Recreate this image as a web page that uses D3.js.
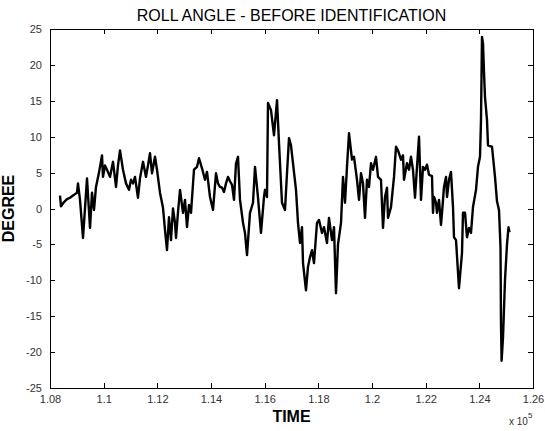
<!DOCTYPE html>
<html><head><meta charset="utf-8">
<script src="https://cdn.jsdelivr.net/npm/d3@7"></script>
<style>
html,body{margin:0;padding:0;background:#fff;}
svg{display:block;font-family:Arial,"Liberation Sans",sans-serif;}
</style></head>
<body><svg id="chart" width="545" height="431"></svg>
<script>
const title = "ROLL ANGLE - BEFORE IDENTIFICATION";
const xLabel = "TIME";
const yLabel = "DEGREE";
const xTickValues = [108000,110000,112000,114000,116000,118000,120000,122000,124000,126000];
const xTickLabels = ["1.08","1.1","1.12","1.14","1.16","1.18","1.2","1.22","1.24","1.26"];
const yTickValues = [-25,-20,-15,-10,-5,0,5,10,15,20,25];
const yTickLabels = ["-25","-20","-15","-10","-5","0","5","10","15","20","25"];

const time = [108373,108410,108522,108634,108745,108857,108932,109006,109043,109118,
109230,109379,109491,109565,109640,109714,109826,109938,109975,110050,
110124,110236,110348,110460,110534,110609,110720,110832,110944,111019,
111093,111168,111279,111354,111466,111578,111652,111727,111801,111913,
111988,112099,112211,112286,112360,112435,112509,112584,112658,112696,
112770,112845,112957,113031,113106,113180,113255,113366,113478,113553,
113665,113776,113851,113963,114075,114186,114261,114335,114410,114484,
114559,114634,114708,114783,114857,114932,115006,115081,115193,115267,
115342,115453,115565,115640,115752,115863,115975,116012,116087,116124,
116236,116348,116460,116534,116646,116758,116832,116907,116981,117056,
117168,117242,117317,117391,117429,117540,117615,117689,117764,117838,
117950,118025,118137,118211,118323,118397,118509,118584,118658,118733,
118845,118919,118994,119068,119143,119255,119329,119441,119516,119590,
119665,119739,119814,119888,119963,120037,120149,120224,120335,120410,
120484,120559,120596,120708,120820,120894,120969,121081,121155,121193,
121304,121379,121453,121528,121602,121677,121752,121826,121901,121975,
122050,122124,122236,122273,122311,122385,122422,122497,122571,122609,
122683,122758,122795,122870,122944,123019,123056,123131,123242,123354,
123391,123466,123540,123615,123689,123764,123876,123950,124025,124062,
124099,124137,124174,124211,124286,124323,124397,124472,124584,124658,
124733,124789,124807,124830,124882,124956,125031,125087,125124];

const roll = [1.8,0.3,0.9,1.3,1.5,1.8,2.0,2.2,3.5,1.2,
-4.1,4.2,-2.7,2.2,-0.2,3.0,5.0,7.4,4.4,6.0,
5.4,4.4,6.5,3.0,6.0,8.1,5.4,3.5,2.6,4.0,
3.5,4.4,1.5,4.2,6.5,4.4,6.0,7.7,4.9,7.2,
5.4,2.2,0.1,-3.0,-5.8,-1.2,-4.4,0.0,-2.0,-4.1,
-0.5,2.6,-0.6,1.2,-2.6,0.5,-0.6,5.4,5.8,7.0,
5.6,4.0,5.1,1.6,-0.2,4.9,3.5,3.0,2.9,2.3,
3.5,4.4,3.8,3.3,1.2,6.3,7.2,1.2,-2.0,-3.4,
-6.5,-0.6,0.8,5.8,1.5,-3.4,1.6,2.6,1.6,14.7,
13.7,10.2,15.1,9.1,0.8,-0.2,4.9,9.8,8.8,6.3,
2.6,-2.0,-4.8,-2.6,-7.6,-11.4,-8.1,-6.8,-5.8,-7.6,
-2.0,-1.6,-3.4,-2.6,-4.8,-1.3,-4.4,-2.6,-11.8,-5.0,
-2.0,4.4,0.8,5.8,10.5,6.8,7.2,4.0,1.2,4.9,
3.5,-1.3,4.0,3.0,6.3,5.4,7.2,4.4,4.0,-2.7,
1.6,2.9,-1.3,0.2,4.4,8.6,8.1,6.8,7.4,4.0,
6.3,5.4,7.2,5.4,1.5,5.8,10.0,1.2,5.8,5.4,
6.1,4.7,4.5,-0.6,1.6,0.8,-0.6,1.2,-2.3,-0.6,
3.0,4.4,1.6,4.0,5.1,0.2,-4.0,-4.4,-11.1,-6.2,
-0.6,-0.6,-4.0,-2.7,-3.4,0.2,2.6,5.8,7.2,12.3,
23.9,23.0,19.0,15.5,12.3,8.8,8.7,8.6,4.4,1.0,
-0.2,-5.4,-16.0,-21.2,-18.0,-10.0,-5.0,-2.6,-3.3];

const svg = d3.select("#chart");
const L = 50, R = 533, T = 29, B = 388;
const x = d3.scaleLinear().domain([108000,126000]).range([L,R]);
const y = d3.scaleLinear().domain([-25,25]).range([B,T]);
const tickLen = 5;

svg.append("rect").attr("x",L).attr("y",T).attr("width",R-L).attr("height",B-T)
  .attr("fill","#fff").attr("stroke","#000").attr("stroke-width",1).attr("shape-rendering","crispEdges");

const xb = svg.append("g").attr("transform",`translate(0,${B})`)
  .call(d3.axisBottom(x).tickValues(xTickValues).tickSizeInner(-tickLen).tickSizeOuter(0)
    .tickPadding(7).tickFormat((d,i)=>xTickLabels[i]));
const xt = svg.append("g").attr("transform",`translate(0,${T})`)
  .call(d3.axisTop(x).tickValues(xTickValues).tickSizeInner(-tickLen).tickSizeOuter(0).tickFormat(""));
const yl = svg.append("g").attr("transform",`translate(${L},0)`)
  .call(d3.axisLeft(y).tickValues(yTickValues).tickSizeInner(-tickLen).tickSizeOuter(0)
    .tickPadding(8).tickFormat((d,i)=>yTickLabels[i]));
const yr = svg.append("g").attr("transform",`translate(${R},0)`)
  .call(d3.axisRight(y).tickValues(yTickValues).tickSizeInner(-tickLen).tickSizeOuter(0).tickFormat(""));
[xb,xt,yl,yr].forEach(g=>{
  g.select(".domain").remove();
  g.selectAll("line").attr("stroke","#000").attr("shape-rendering","crispEdges");
  g.selectAll("text").attr("fill","#333").style("font-size","11px").style("font-family","Arial,'Liberation Sans',sans-serif");
});

const line = d3.line().x((d,i)=>x(time[i])).y((d,i)=>y(roll[i]));
svg.append("path").datum(roll).attr("d",line)
  .attr("fill","none").attr("stroke","#000").attr("stroke-width",2.4).attr("stroke-linejoin","round");

svg.append("text").attr("x",(L+R)/2).attr("y",21).attr("text-anchor","middle")
  .style("font-size","16px").attr("fill","#000").text(title);
svg.append("text").attr("x",(L+R)/2).attr("y",422).attr("text-anchor","middle")
  .style("font-size","16px").style("font-weight","bold").attr("fill","#000").text(xLabel);
svg.append("text").attr("transform",`translate(14,${(T+B)/2}) rotate(-90)`).attr("text-anchor","middle")
  .style("font-size","16px").style("font-weight","bold").attr("fill","#000").text(yLabel);
const ex = svg.append("text").attr("x",509).attr("y",425).style("font-size","10px").attr("fill","#333");
ex.append("tspan").text("x 10");
ex.append("tspan").attr("dy",-7).style("font-size","8px").text("5");
</script></body></html>
